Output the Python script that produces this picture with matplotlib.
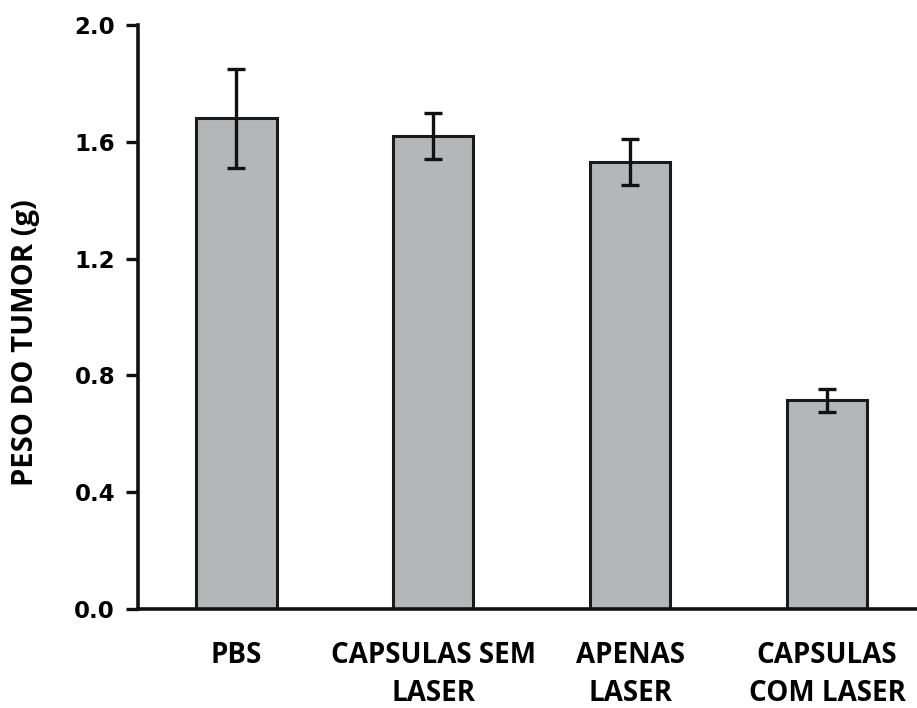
import matplotlib
matplotlib.use("Agg")
import matplotlib.pyplot as plt

categories = ["PBS", "CAPSULAS SEM\nLASER", "APENAS\nLASER", "CAPSULAS\nCOM LASER"]
peso = [1.68, 1.62, 1.53, 0.715]
erro = [0.17, 0.08, 0.078, 0.039]
yticks = [0.0, 0.4, 0.8, 1.2, 1.6, 2.0]

fig = plt.figure(figsize=(9.17, 7.08), dpi=100)
ax = fig.add_axes([0.1502, 0.1398, 0.859, 0.8249])

x = range(len(categories))
ax.bar(x, peso, width=0.41, color="#b4b6b8", edgecolor="#1a1a1a", linewidth=2.2, zorder=2)
ax.errorbar(x, peso, yerr=erro, fmt="none", ecolor="#111111", elinewidth=2.4,
            capsize=6.5, capthick=2.4, zorder=3)

ax.set_xlim(-0.5, 3.5)
ax.set_ylim(0, 2.0)
ax.set_yticks(yticks)
ax.set_yticklabels([f"{v:.1f}" for v in yticks], fontfamily="DejaVu Sans",
                   fontweight="bold", fontsize=16.5)
ax.set_xticks(list(x))
ax.set_xticklabels(categories, fontfamily="Open Sans", fontweight="bold",
                   fontsize=20, linespacing=1.4)
ax.tick_params(axis="x", length=0, pad=23)
ax.tick_params(axis="y", length=8.3, width=2.4, pad=8, color="#111111")

for side in ("top", "right"):
    ax.spines[side].set_visible(False)
for side in ("left", "bottom"):
    ax.spines[side].set_linewidth(2.6)
    ax.spines[side].set_color("#111111")

fig.text(26 / 917, 1 - 343 / 708, "PESO DO TUMOR (g)", rotation=90,
         ha="center", va="center", fontfamily="Open Sans", fontweight="bold",
         fontsize=21)

fig.savefig("out.png", dpi=100)
